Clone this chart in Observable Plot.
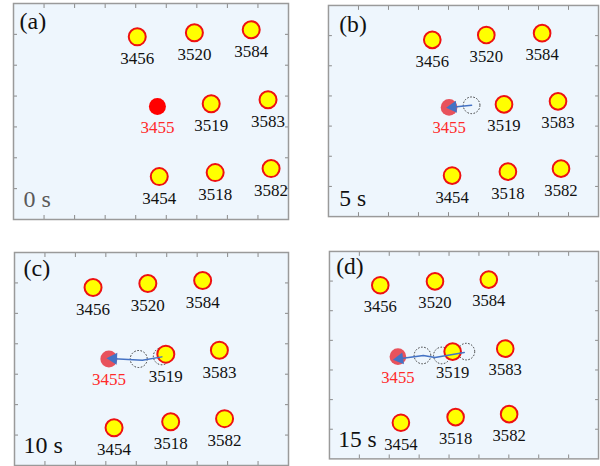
<!DOCTYPE html>
<html>
<head>
<meta charset="utf-8">
<script src="https://cdn.jsdelivr.net/npm/d3@7"></script>
<script src="https://cdn.jsdelivr.net/npm/@observablehq/plot@0.6"></script>
<style>
  html, body { margin: 0; padding: 0; background: #ffffff; }
  #wrap { position: relative; width: 600px; height: 466px; overflow: hidden; }
  .panel { position: absolute; }
  .panel svg text { font-family: "Liberation Serif", "Times New Roman", Times, serif !important; }
</style>
</head>
<body>
<div id="wrap"></div>
<script>
// ---- data ----
const atomIds = ["3456", "3520", "3584", "3455", "3519", "3583", "3454", "3518", "3582"];
const xTicks = [1, 2, 3, 4, 5, 6, 7, 8];
const yTicks = [1, 2, 3, 4, 5, 6];

const panelLetters = ["(a)", "(b)", "(c)", "(d)"];
const panelTimes = ["0 s", "5 s", "10 s", "15 s"];

const aX = [4.05, 5.92, 7.78, 4.71, 6.47, 8.33, 4.77, 6.60, 8.43];
const aY = [5.92, 6.05, 6.15, 3.66, 3.75, 3.88, 1.39, 1.52, 1.65];
const bX = [3.46, 5.26, 7.12, 4.02, 5.85, 7.65, 4.12, 5.98, 7.75];
const bY = [5.86, 6.02, 6.08, 3.62, 3.72, 3.82, 1.36, 1.49, 1.59];
const cX = [2.58, 4.38, 6.18, 3.10, 4.97, 6.73, 3.27, 5.13, 6.90];
const cY = [5.85, 5.98, 6.08, 3.50, 3.66, 3.79, 1.24, 1.44, 1.54];
const dX = [1.70, 3.53, 5.33, 2.29, 4.12, 5.88, 2.39, 4.22, 6.01];
const dY = [5.86, 5.99, 6.05, 3.45, 3.62, 3.72, 1.22, 1.41, 1.51];

// earlier positions of atom 3455 (dotted circles)
const ghostBX = [4.77];             const ghostBY = [3.69];
const ghostCX = [4.08, 4.84];       const ghostCY = [3.50, 3.59];
const ghostDX = [3.11, 3.76, 4.58]; const ghostDY = [3.49, 3.49, 3.62];

// trajectory of atom 3455
const pathBX = [4.77, 4.02];             const pathBY = [3.69, 3.62];
const pathCX = [4.84, 4.20, 3.12];       const pathCY = [3.57, 3.46, 3.52];
const pathDX = [4.51, 3.53, 3.14, 2.22]; const pathDY = [3.59, 3.42, 3.49, 3.36];

// ---- layout ----
const layout = [
  {left: 13,  top: 3,   w: 275, h: 216, lx: 6,  ly: 18, tx: 10, ty: -20, tcolor: "#5a5a5a"},
  {left: 328, top: 5,   w: 275, h: 215, lx: 11, ly: 19, tx: 11, ty: -18, tcolor: "#111"},
  {left: 14,  top: 252, w: 274, h: 213, lx: 9,  ly: 16, tx: 9,  ty: -20, tcolor: "#111"},
  {left: 329, top: 251, w: 275, h: 212, lx: 7,  ly: 15, tx: 9,  ty: -20, tcolor: "#111"}
];

const panels = [
  {xs: aX, ys: aY, gx: [], gy: [], px: [], py: [], first: true},
  {xs: bX, ys: bY, gx: ghostBX, gy: ghostBY, px: pathBX, py: pathBY},
  {xs: cX, ys: cY, gx: ghostCX, gy: ghostCY, px: pathCX, py: pathCY},
  {xs: dX, ys: dY, gx: ghostDX, gy: ghostDY, px: pathDX, py: pathDY}
];

const serif = "Liberation Serif";
const wrap = document.getElementById("wrap");

panels.forEach((p, i) => {
  const L = layout[i];
  const atoms = atomIds.map((id, k) => ({id, x: p.xs[k], y: p.ys[k], main: id === "3455"}));
  const others = atoms.filter(d => !d.main);
  const main = atoms.filter(d => d.main);
  const ghosts = p.gx.map((x, k) => ({x, y: p.gy[k]}));
  const path = p.px.map((x, k) => ({x, y: p.py[k]}));

  const sx = L.w / 9, sy = L.h / 7;
  let rot = -90;
  if (path.length > 1) {
    const a = path[path.length - 2], b = path[path.length - 1];
    const vx = (b.x - a.x) * sx, vy = -(b.y - a.y) * sy;
    rot = Math.atan2(vx, -vy) * 180 / Math.PI;
  }
  const head = path.length ? [path[path.length - 1]] : [];
  const hdx = head.length ? -Math.sin(rot * Math.PI / 180) * 4 : 0;
  const hdy = head.length ? Math.cos(rot * Math.PI / 180) * 4 : 0;

  const marks = [
    Plot.frame({fill: "#eef6fd", stroke: "none"}),
    Plot.axisX({anchor: "bottom", ticks: xTicks, tickSize: -4, tickFormat: () => "", stroke: "#8a8a8a", label: null}),
    Plot.axisX({anchor: "top", ticks: xTicks, tickSize: -4, tickFormat: () => "", stroke: "#8a8a8a", label: null}),
    Plot.axisY({anchor: "left", ticks: yTicks, tickSize: -4, tickFormat: () => "", stroke: "#8a8a8a", label: null}),
    Plot.axisY({anchor: "right", ticks: yTicks, tickSize: -4, tickFormat: () => "", stroke: "#8a8a8a", label: null}),
    Plot.frame({stroke: "#9a9a9a", strokeWidth: 1.5}),
    Plot.dot(ghosts, {x: "x", y: "y", r: 8.5, stroke: "#333", strokeWidth: 1, strokeDasharray: "1.6,1.6", fill: "none"}),
    Plot.dot(others, {x: "x", y: "y", r: 8.5, fill: "#ffff00", stroke: "#ee1111", strokeWidth: 2}),
    Plot.dot(main, {x: "x", y: "y", r: 8.5, fill: p.first ? "#ff0000" : "#e8525c", stroke: "none"}),
    Plot.line(path, {x: "x", y: "y", stroke: "#4472c4", strokeWidth: 1.5, curve: "linear"}),
    Plot.dot(head, {x: "x", y: "y", symbol: "triangle", r: 4.5, fill: "#4472c4", stroke: "none", rotate: rot, dx: hdx, dy: hdy}),
    Plot.text(others, {x: "x", y: "y", text: "id", dy: 22, fontSize: 17, fontFamily: serif, fill: "#111"}),
    Plot.text(main, {x: "x", y: "y", text: "id", dy: 21, fontSize: 17, fontFamily: serif, fill: "#ff2a2a"}),
    Plot.text([panelLetters[i]], {frameAnchor: "top-left", text: d => d, dx: L.lx, dy: L.ly, textAnchor: "start", lineAnchor: "middle", fontSize: 24, fontFamily: serif, fill: "#111"}),
    Plot.text([panelTimes[i]], {frameAnchor: "bottom-left", text: d => d, dx: L.tx, dy: L.ty, textAnchor: "start", lineAnchor: "middle", fontSize: 24, fontFamily: serif, fill: L.tcolor})
  ];

  const chart = Plot.plot({
    width: L.w + 4,
    height: L.h + 4,
    margin: 2,
    x: {domain: [0, 9]},
    y: {domain: [0, 7]},
    style: {background: "transparent", overflow: "visible", fontFamily: "Liberation Serif"},
    marks
  });
  const div = document.createElement("div");
  div.className = "panel";
  div.style.left = (L.left - 2) + "px";
  div.style.top = (L.top - 2) + "px";
  div.appendChild(chart);
  wrap.appendChild(div);
});
</script>
</body>
</html>
